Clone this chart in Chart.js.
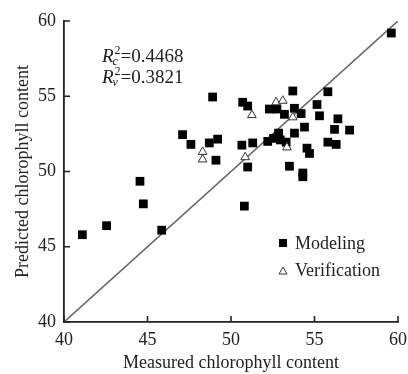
<!DOCTYPE html>
<html>
<head>
<meta charset="utf-8">
<script src="https://cdn.jsdelivr.net/npm/chart.js@4.4.1/dist/chart.umd.min.js"></script>
<style>
  html, body { margin: 0; padding: 0; background: #fff; }
  #wrap { width: 408px; height: 374px; }
</style>
</head>
<body>
<div id="wrap"><canvas id="chart" width="408" height="374"></canvas></div>
<script>
// measured (x) vs predicted (y) chlorophyll
var modelingX = [59.6, 48.9, 50.7, 51.0, 53.7, 55.8, 55.15, 52.3, 52.75, 53.8, 53.2, 54.2, 55.3, 54.4, 56.4,
    56.2, 57.1, 53.8, 55.8, 56.3, 54.55, 54.7, 52.2, 52.55, 52.85, 52.95, 53.3, 47.1, 47.6, 48.7, 49.2,
    49.1, 50.65, 51.3, 51.0, 53.5, 54.3, 54.3, 44.55, 44.75, 50.8, 41.1, 42.55, 45.85];
var modelingY = [59.2, 54.95, 54.6, 54.35, 55.35, 55.3, 54.45, 54.15, 54.15, 54.2, 53.8, 53.85, 53.7, 52.95, 53.5,
    52.8, 52.75, 52.55, 51.95, 51.8, 51.55, 51.2, 52.0, 52.2, 52.55, 52.1, 51.95, 52.45, 51.8, 51.9, 52.15,
    50.75, 51.75, 51.9, 50.3, 50.35, 49.9, 49.65, 49.35, 47.85, 47.7, 45.8, 46.4, 46.1];
var verifyX = [52.7, 53.1, 51.25, 53.7, 53.35, 48.3, 48.3, 50.85];
var verifyY = [54.6, 54.7, 53.75, 53.6, 51.6, 51.3, 50.8, 50.95];
var lineX = [40, 60];
var lineY = [40, 60];
var tickValues = [40, 45, 50, 55, 60];
var seriesNames = ['Modeling', 'Verification'];
var r2Labels = [['c', '0.4468'], ['v', '0.3821']];

var FONT = '"Liberation Serif", "Times New Roman", serif';

function toPoints(xs, ys) {
    var pts = [];
    for (var i = 0; i < xs.length; i++) {
        pts.push({ x: xs[i], y: ys[i] });
    }
    return pts;
}

// ticks drawn inward, like the original
var innerTicks = {
    id: 'innerTicks',
    afterDatasetsDraw: function (chart) {
        var ctx = chart.ctx;
        var xs = chart.scales.x, ys = chart.scales.y;
        var a = chart.chartArea;
        ctx.save();
        ctx.strokeStyle = '#222';
        ctx.lineWidth = 1.6;
        ctx.beginPath();
        for (var i = 0; i < tickValues.length; i++) {
            var px = xs.getPixelForValue(tickValues[i]);
            ctx.moveTo(px, a.bottom);
            ctx.lineTo(px, a.bottom - 6);
            var py = ys.getPixelForValue(tickValues[i]);
            ctx.moveTo(a.left, py);
            ctx.lineTo(a.left + 6, py);
        }
        ctx.stroke();
        ctx.restore();
    }
};

// R^2 text and the legend inside the plot
var annotations = {
    id: 'annotations',
    afterDraw: function (chart) {
        var ctx = chart.ctx;
        ctx.save();
        ctx.fillStyle = '#222';
        ctx.textBaseline = 'alphabetic';
        for (var i = 0; i < r2Labels.length; i++) {
            var x = 102, y = 62 + i * 21;
            ctx.font = 'italic 19px ' + FONT;
            ctx.fillText('R', x, y);
            var w = ctx.measureText('R').width;
            ctx.font = 'italic 12px ' + FONT;
            ctx.fillText(r2Labels[i][0], x + w - 1, y + 3);
            ctx.font = '12px ' + FONT;
            ctx.fillText('2', x + w + 1, y - 8);
            ctx.font = '19px ' + FONT;
            ctx.fillText('=' + r2Labels[i][1], x + w + 7, y);
        }

        // legend
        ctx.font = '18px ' + FONT;
        ctx.textBaseline = 'middle';
        ctx.fillStyle = '#000';
        ctx.fillRect(279, 239, 8, 8);
        ctx.fillStyle = '#222';
        ctx.fillText(seriesNames[0], 295, 244);
        ctx.beginPath();
        ctx.moveTo(283, 267);
        ctx.lineTo(287, 274);
        ctx.lineTo(279, 274);
        ctx.closePath();
        ctx.fillStyle = '#fff';
        ctx.fill();
        ctx.strokeStyle = '#333';
        ctx.lineWidth = 1;
        ctx.stroke();
        ctx.fillStyle = '#222';
        ctx.fillText(seriesNames[1], 295, 271);
        ctx.restore();
    }
};

const ctx = document.getElementById('chart');

new Chart(ctx, {
    type: 'scatter',
    data: {
        datasets: [
            {
                label: seriesNames[0],
                data: toPoints(modelingX, modelingY),
                pointStyle: 'rect',
                pointRadius: 6.2,
                backgroundColor: '#000',
                borderColor: '#000',
                borderWidth: 0,
                order: 1
            },
            {
                label: seriesNames[1],
                data: toPoints(verifyX, verifyY),
                pointStyle: 'triangle',
                pointRadius: 5,
                backgroundColor: '#fff',
                borderColor: '#333',
                borderWidth: 1,
                order: 0
            },
            {
                label: '1:1',
                type: 'line',
                data: toPoints(lineX, lineY),
                showLine: true,
                pointRadius: 0,
                borderColor: '#666',
                borderWidth: 1.6,
                order: 2
            }
        ]
    },
    options: {
        responsive: false,
        animation: false,
        layout: { padding: { top: 21, right: 0, left: 0, bottom: 0 } },
        scales: {
            x: {
                type: 'linear',
                min: 40,
                max: 60,
                afterBuildTicks: function (scale) {
                    scale.ticks = tickValues.map(function (v) { return { value: v }; });
                },
                afterFit: function (scale) {
                    scale.height = 52;
                    scale.paddingRight = 10;
                },
                grid: { display: false, drawTicks: false },
                border: { display: true, color: '#222', width: 1.8 },
                ticks: {
                    padding: 7,
                    color: '#222',
                    font: { family: FONT, size: 18 },
                    maxRotation: 0
                },
                title: {
                    display: true,
                    text: 'Measured chlorophyll content',
                    color: '#222',
                    font: { family: FONT, size: 18 },
                    padding: { top: 0, bottom: 0 }
                }
            },
            y: {
                type: 'linear',
                min: 40,
                max: 60,
                afterBuildTicks: function (scale) {
                    scale.ticks = tickValues.map(function (v) { return { value: v }; });
                },
                afterFit: function (scale) { scale.width = 64; },
                grid: { display: false, drawTicks: false },
                border: { display: true, color: '#222', width: 1.8 },
                ticks: {
                    padding: 8,
                    color: '#222',
                    font: { family: FONT, size: 18 }
                },
                title: {
                    display: true,
                    text: 'Predicted chlorophyll content',
                    color: '#222',
                    font: { family: FONT, size: 18 },
                    padding: { top: 12, bottom: 0 }
                }
            }
        },
        plugins: {
            legend: { display: false },
            tooltip: { enabled: false }
        }
    },
    plugins: [innerTicks, annotations]
});
</script>
</body>
</html>
